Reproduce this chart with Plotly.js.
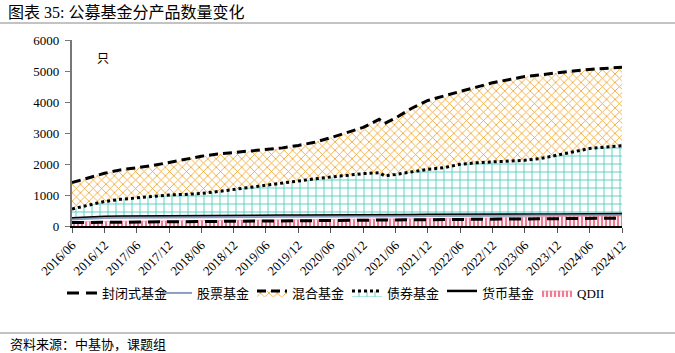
<!DOCTYPE html>
<html><head><meta charset="utf-8">
<script src="https://cdn.plot.ly/plotly-3.0.1.min.js"></script>
<style>body{margin:0;background:#fff}#c{width:675px;height:353px}</style>
</head><body><div id="c"></div>
<script>
const dates = ['2016-06','2016-09','2016-12','2017-03','2017-06','2017-09','2017-12','2018-03','2018-06','2018-09','2018-12','2019-03','2019-06','2019-09','2019-12','2020-03','2020-06','2020-09','2020-12','2021-03','2021-04','2021-06','2021-09','2021-12','2022-03','2022-06','2022-09','2022-12','2023-03','2023-06','2023-09','2023-12','2024-03','2024-06','2024-09','2024-12'];
const mixed  = [1400,1560,1700,1810,1880,1950,2050,2160,2250,2320,2370,2420,2460,2520,2600,2700,2850,3020,3180,3440,3310,3480,3800,4050,4200,4340,4480,4620,4720,4820,4880,4950,5000,5050,5090,5120];
const bond   = [550,680,790,860,910,960,1000,1020,1050,1110,1180,1250,1330,1400,1460,1520,1580,1640,1690,1720,1620,1660,1740,1830,1880,1990,2040,2060,2090,2120,2180,2290,2400,2500,2550,2590];
const money  = [250,280,300,310,315,320,325,325,330,330,330,330,330,335,335,335,335,335,340,345,345,350,355,360,365,370,370,370,370,375,375,375,380,380,385,385];
const equity = [210,240,260,270,275,280,285,285,290,290,290,290,290,295,295,295,295,295,300,305,305,310,315,320,325,330,330,330,330,335,335,335,340,340,345,345];
const qdii   = [140,145,150,155,160,165,170,175,180,185,185,190,190,195,195,200,200,205,210,215,215,220,225,225,230,235,250,260,275,290,300,305,310,315,320,320];
const closed = [110,115,120,125,130,135,140,145,150,150,155,160,160,165,165,170,175,180,185,190,190,195,200,200,205,210,215,220,225,230,235,240,245,245,250,250];
const tickDates = ['2016-06','2016-12','2017-06','2017-12','2018-06','2018-12','2019-06','2019-12','2020-06','2020-12','2021-06','2021-12','2022-06','2022-12','2023-06','2023-12','2024-06','2024-12'];
const tickLabels = tickDates.map(d => d.replace('-', '/'));

const F = 'Liberation Serif, Noto Sans CJK SC, serif';
const traces = [
  {name:'混合基金', x:dates, y:mixed, type:'scatter', mode:'lines', fill:'tozeroy', legendrank:3,
   line:{color:'#000', width:3, dash:'9px,5px'},
   fillpattern:{shape:'x', fgcolor:'#f0a020', bgcolor:'#ffffff', size:6, solidity:0.25}},
  {name:'债券基金', x:dates, y:bond, type:'scatter', mode:'lines', fill:'tozeroy', legendrank:4,
   line:{color:'#000', width:3, dash:'3px,3px'},
   fillpattern:{shape:'+', fgcolor:'#55cdc0', bgcolor:'#ffffff', size:8, solidity:0.22}},
  {name:'货币基金', x:dates, y:money, type:'scatter', mode:'lines', fill:'tozeroy', fillcolor:'#ffffff', legendrank:5,
   line:{color:'#000', width:2.5}},
  {name:'股票基金', x:dates, y:equity, type:'scatter', mode:'lines', legendrank:2,
   line:{color:'#8a9fc0', width:2}},
  {name:'QDII', x:dates, y:qdii, type:'scatter', mode:'lines', fill:'tozeroy', legendrank:6,
   line:{color:'#f07b93', width:0.5},
   fillpattern:{shape:'|', fgcolor:'#f07b93', bgcolor:'#ffffff', size:4, solidity:0.55}},
  {name:'封闭式基金', x:dates, y:closed, type:'scatter', mode:'lines', legendrank:1,
   line:{color:'#000', width:3, dash:'12px,7px'}}
];

const px = p => (p - 72) / 550;
const py = p => (226 - p) / 186;
const layout = {
  width:675, height:353,
  margin:{l:72, r:53, t:40, b:127},
  paper_bgcolor:'#fff', plot_bgcolor:'#fff',
  font:{family:F, size:13, color:'#000'},
  showlegend:true,
  title:{text:'图表 35: 公募基金分产品数量变化', x:8/675, xanchor:'left', xref:'container', y:1-12/353, yanchor:'middle', yref:'container', font:{family:F, size:16, color:'#000'}},
  xaxis:{type:'date', range:['2016-06-01','2024-12-01'], tickvals:tickDates, ticktext:tickLabels, tickangle:-45,
         showgrid:false, zeroline:false, showline:true, linecolor:'#000', linewidth:1.5,
         ticks:'outside', ticklen:5, tickcolor:'#555', tickfont:{family:F, size:13}},
  yaxis:{range:[0,6000], dtick:1000, showgrid:false, zeroline:false, showline:true, linecolor:'#777', linewidth:2,
         ticks:'outside', ticklen:5, tickcolor:'#777', tickfont:{family:F, size:13}, ticksuffix:' '},
  legend:{orientation:'h', xref:'paper', yref:'paper', x:px(62), xanchor:'left', y:py(293), yanchor:'middle',
          font:{family:F, size:13}, itemwidth:30, entrywidth:50, tracegroupgap:0, traceorder:'normal'},
  shapes:[
    {type:'line', xref:'paper', yref:'paper', x0:px(0), x1:px(675), y0:py(23), y1:py(23), line:{color:'#888', width:1}},
    {type:'line', xref:'paper', yref:'paper', x0:px(0), x1:px(675), y0:py(333), y1:py(333), line:{color:'#888', width:1}}
  ],
  annotations:[
    {text:'只', xref:'paper', yref:'paper', x:px(95), y:py(50), showarrow:false, font:{family:F, size:12}},
    {text:'资料来源：中基协，课题组', xref:'paper', yref:'paper', x:px(8), xanchor:'left', y:py(344), yanchor:'middle', showarrow:false, font:{family:F, size:13}}
  ]
};
Plotly.newPlot('c', traces, layout, {displayModeBar:false, staticPlot:true});
</script></body></html>
